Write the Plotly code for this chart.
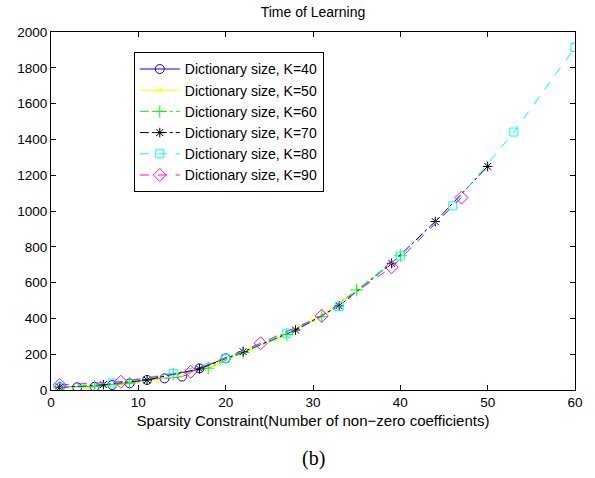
import plotly.graph_objects as go

x_k40 = [1, 3, 5, 7, 9, 11, 13, 15, 17, 20]
y_k40 = [15, 15, 18, 28, 37, 56, 65, 75, 121, 177]

x_k50 = [1, 4, 8, 12, 15, 19, 23, 26, 30, 34]
y_k50 = [12, 15, 30, 58, 80, 150, 233, 289, 391, 520]

x_k60 = [1, 5, 9, 14, 18, 22, 27, 31, 35, 40]
y_k60 = [15, 20, 38, 90, 122, 210, 310, 410, 559, 750]

x_k70 = [1, 6, 11, 17, 22, 28, 33, 39, 44, 50]
y_k70 = [15, 30, 56, 118, 214, 335, 470, 708, 941, 1249]

x_k80 = [1, 7, 14, 20, 27, 33, 40, 46, 53, 60]
y_k80 = [15, 39, 93, 177, 317, 466, 749, 1029, 1441, 1914]

x_k90 = [1, 8, 16, 24, 31, 39, 47]
y_k90 = [28, 46, 102, 261, 414, 686, 1075]

names = ["Dictionary size, K=40", "Dictionary size, K=50", "Dictionary size, K=60",
         "Dictionary size, K=70", "Dictionary size, K=80", "Dictionary size, K=90"]
colors = ["#0000ff", "#ffff00", "#00ff00", "#000000", "#00ffff", "#ff00ff"]
symbols = ["circle-open", "x-thin-open", "cross-thin-open", "asterisk-open", "square-open", "diamond-open"]
dashes = ["solid", "solid", "dashdot", "dashdot", "dash", "dash"]
sizes = [9, 7, 9, 8, 8, 10]

xs = [x_k40, x_k50, x_k60, x_k70, x_k80, x_k90]
ys = [y_k40, y_k50, y_k60, y_k70, y_k80, y_k90]

FONT = "Liberation Sans, Arial, Helvetica"

fig = go.Figure()
for i in range(6):
    fig.add_trace(go.Scatter(
        x=xs[i], y=ys[i], name=names[i], mode="lines+markers",
        line=dict(color=colors[i], width=1, dash=dashes[i]),
        marker=dict(symbol=symbols[i], size=sizes[i], color=colors[i],
                    line=dict(color=colors[i], width=1)),
    ))

axis_common = dict(
    showgrid=False, zeroline=False, showline=True, linecolor="black", linewidth=1,
    mirror="ticks", ticks="inside", ticklen=5, tickcolor="black",
    tickfont=dict(family=FONT, size=13.5, color="black"),
)
fig.update_xaxes(range=[0, 60], tickmode="linear", tick0=0, dtick=10,
                 title=dict(text="Sparsity Constraint(Number of non\u2212zero coefficients)",
                            font=dict(family=FONT, size=15, color="black"),
                            standoff=6),
                 **axis_common)
fig.update_yaxes(range=[0, 2000], tickmode="linear", tick0=0, dtick=200, **axis_common)

fig.update_layout(
    width=595, height=478,
    margin=dict(l=51, r=14, t=32, b=88),
    paper_bgcolor="white", plot_bgcolor="white",
    title=dict(text="Time of Learning", x=0.5, xref="paper", y=1 - 12 / 478, yanchor="middle",
               font=dict(family=FONT, size=14, color="black")),
    legend=dict(x=0.158, y=0.943, xanchor="left", yanchor="top",
                bordercolor="black", borderwidth=1, bgcolor="white",
                font=dict(family=FONT, size=14, color="black"),
                itemwidth=40),
    showlegend=True,
    annotations=[dict(text="(b)", x=0.5, xref="paper", y=-0.19, yref="paper",
                      xanchor="center", yanchor="middle", showarrow=False,
                      font=dict(family="Liberation Serif, Times New Roman", size=20, color="black"))],
)

fig.write_html("out.html", config={"displayModeBar": False},
               post_script="document.body.style.margin='0';")
